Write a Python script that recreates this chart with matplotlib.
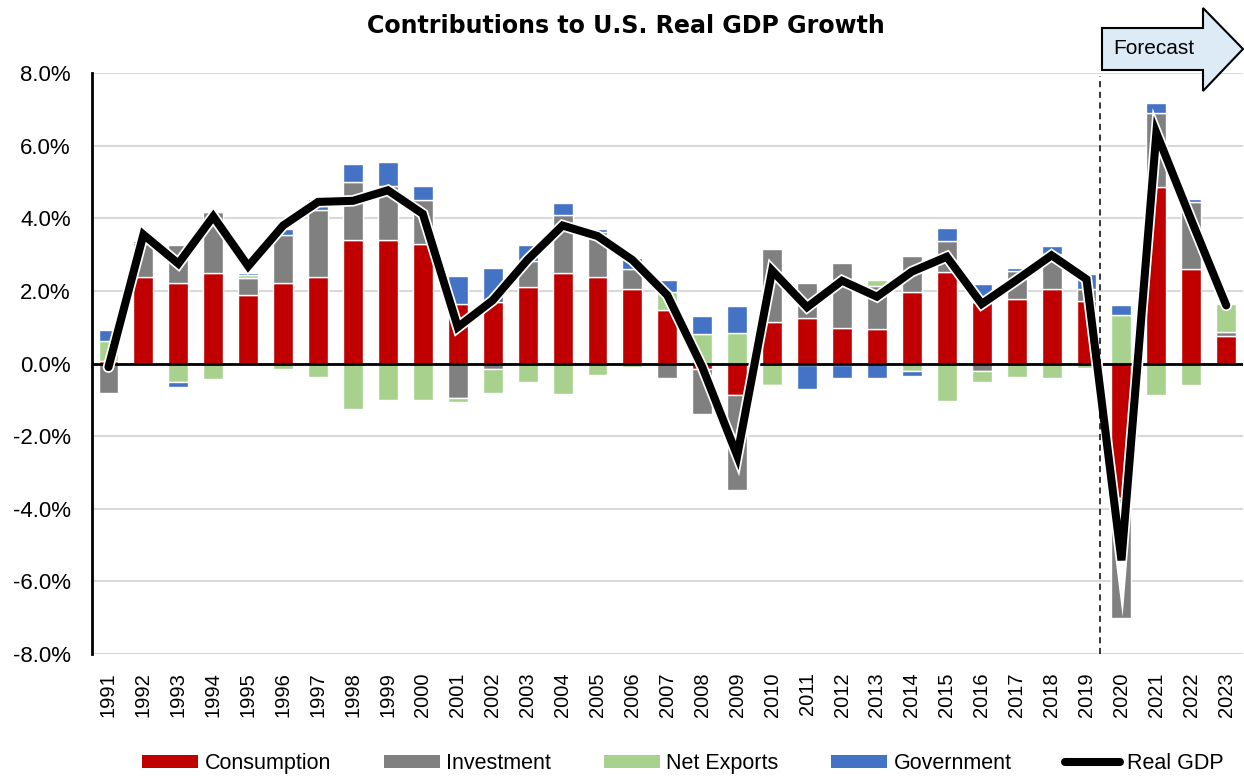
import matplotlib.pyplot as plt
import matplotlib.patheffects as pe
from matplotlib.patches import Polygon
import numpy as np

years = [str(y) for y in range(1991, 2024)]

# contributions, percentage points
consumption = [0.07, 2.37, 2.23, 2.48, 1.88, 2.21, 2.39, 3.40, 3.39, 3.30,
               1.63, 1.69, 2.11, 2.50, 2.37, 2.04, 1.47, -0.14, -0.86, 1.15,
               1.25, 0.99, 0.95, 1.98, 2.51, 1.68, 1.78, 2.05, 1.72, -3.71,
               4.85, 2.61, 0.76]
investment = [-0.80, 0.96, 1.04, 1.68, 0.47, 1.32, 1.84, 1.60, 1.50, 1.20,
              -0.94, -0.16, 0.72, 1.59, 1.26, 0.55, -0.41, -1.26, -2.63, 2.00,
              0.96, 1.77, 1.19, 0.97, 0.86, -0.20, 0.76, 0.97, 0.33, -3.31,
              2.05, 1.83, 0.10]
net_exports = [0.55, -0.03, -0.52, -0.42, 0.08, -0.16, -0.37, -1.24, -1.01, -1.00,
               -0.11, -0.64, -0.52, -0.84, -0.32, -0.11, 0.49, 0.81, 0.83, -0.60,
               -0.05, -0.03, 0.15, -0.22, -1.02, -0.32, -0.38, -0.39, -0.13, 1.34,
               -0.86, -0.59, 0.78]
government = [0.30, 0.03, -0.13, 0.02, 0.05, 0.17, 0.30, 0.50, 0.66, 0.38,
              0.78, 0.94, 0.44, 0.33, 0.07, 0.31, 0.34, 0.49, 0.74, -0.02,
              -0.64, -0.36, -0.41, -0.12, 0.35, 0.50, 0.10, 0.21, 0.41, 0.28,
              0.27, 0.08, -0.02]
real_gdp = [-0.1, 3.55, 2.75, 4.05, 2.68, 3.8, 4.45, 4.48, 4.77, 4.12,
            1.0, 1.74, 2.86, 3.8, 3.51, 2.85, 1.88, -0.1, -2.54, 2.56,
            1.55, 2.28, 1.84, 2.53, 2.94, 1.64, 2.3, 2.98, 2.32, -5.42,
            6.35, 3.95, 1.6]

series = [("Consumption", consumption, "#C00000"),
          ("Investment", investment, "#808080"),
          ("Net Exports", net_exports, "#A9D18E"),
          ("Government", government, "#4472C4")]

plt.rcParams['font.family'] = ['Liberation Sans', 'DejaVu Sans']

fig = plt.figure(figsize=(12.44, 7.76), dpi=100)
ax = fig.add_axes([91.7/1244, 1 - 654/776, (1243-91.7)/1244, (654-73)/776])

x = np.arange(len(years))
pos_base = np.zeros(len(years))
neg_base = np.zeros(len(years))
handles = []
for name, vals, col in series:
    v = np.array(vals)
    base = np.where(v >= 0, pos_base, neg_base)
    b = ax.bar(x, v, 0.57, bottom=base, color=col, edgecolor="white",
               linewidth=1.0, label=name, zorder=2)
    handles.append(b)
    pos_base += np.where(v >= 0, v, 0)
    neg_base += np.where(v < 0, v, 0)

ln, = ax.plot(x, real_gdp, color="black", lw=5.8, label="Real GDP", zorder=4,
              solid_joinstyle="miter", solid_capstyle="round",
              path_effects=[pe.Stroke(linewidth=8.3, foreground="white"), pe.Normal()])
handles.append(ln)

ax.axhline(0, color="black", lw=2, zorder=3)
ax.axvline(28.39, ymax=0.995, color="black", lw=1.1, ls=(0, (4, 3)), zorder=5)

ax.set_xlim(-0.48, 32.48)
ax.set_ylim(-8, 8)
ax.set_yticks(np.arange(-8, 9, 2))
ax.set_yticklabels([f"{v:.1f}%" for v in np.arange(-8, 9, 2)], fontsize=16)
ax.set_xticks(x)
ax.set_xticklabels(years, rotation=90, fontsize=14.5)
ax.tick_params(axis="x", length=0, pad=13)
ax.tick_params(axis="y", length=0, pad=15)
ax.grid(axis="y", color="#D9D9D9", lw=1.5, zorder=0)
ax.set_axisbelow(True)
for s in ["top", "right", "bottom"]:
    ax.spines[s].set_visible(False)
ax.spines["left"].set_linewidth(2)

fig.text(0.503, 0.967, "Contributions to U.S. Real GDP Growth",
         ha="center", va="center", fontsize=17.1, fontweight="bold",
         family=["DejaVu Sans"])

# forecast arrow
pts = [(1102, 28), (1203, 28), (1203, 8), (1243, 49), (1203, 91), (1203, 70), (1102, 70)]
arrow = Polygon([(px/1244, 1 - py/776) for px, py in pts], closed=True,
                transform=fig.transFigure, facecolor="#DDEBF7",
                edgecolor="black", lw=1.5, zorder=10)
fig.patches.append(arrow)
fig.text(1113/1244, 1 - 49/776, "Forecast", ha="left", va="center",
         fontsize=15, zorder=11)

labels = [s[0] for s in series] + ["Real GDP"]
leg = fig.legend(handles, labels, loc="center", bbox_to_anchor=(0.549, 0.016),
                 ncol=5, frameon=False, fontsize=15.5, handlelength=2.6,
                 handleheight=0.55, columnspacing=2.45, handletextpad=0.3)
for h in leg.legend_handles[:4]:
    h.set_edgecolor("none")

fig.savefig("out.png", dpi=100)
